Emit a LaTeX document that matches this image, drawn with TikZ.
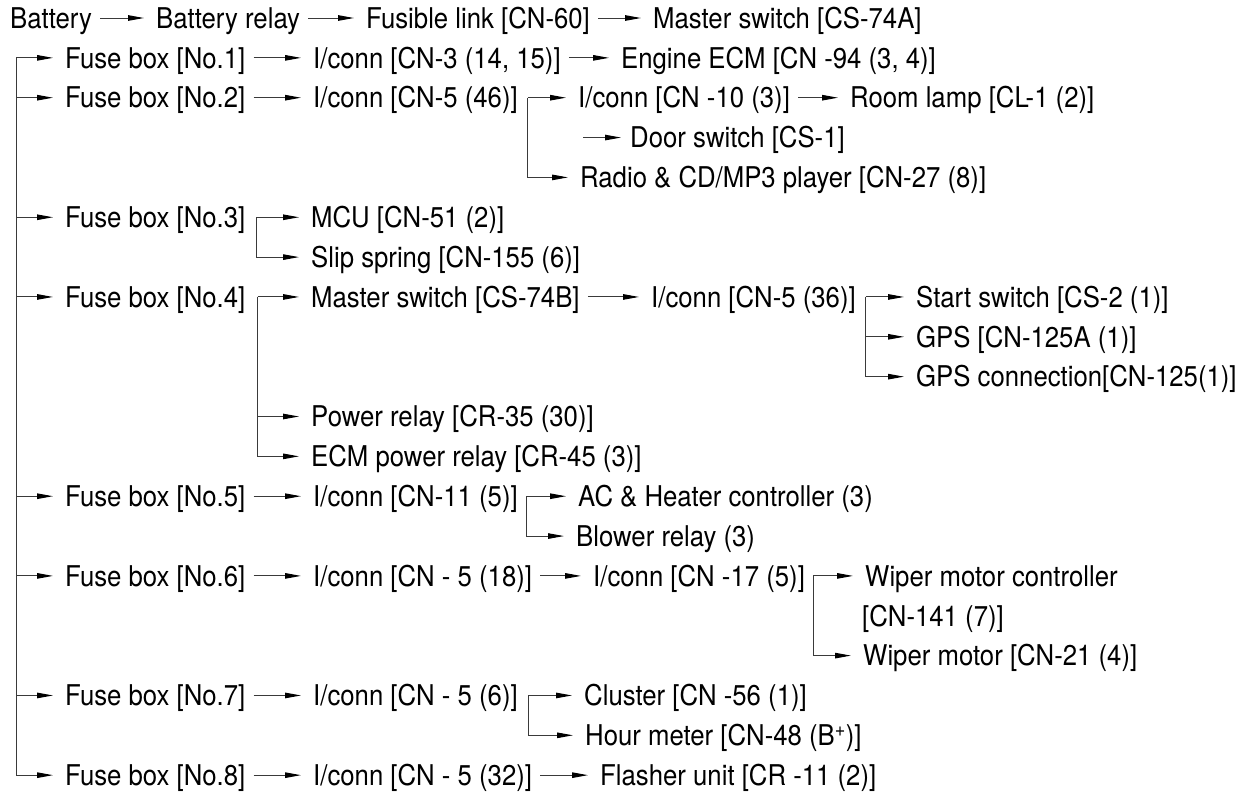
\documentclass[tikz,border=0pt]{standalone}
\usepackage{fontspec}
\setmainfont{TeX Gyre Heros}[FakeStretch=0.9]
\usetikzlibrary{arrows.meta}
\definecolor{WireGray}{HTML}{3A3A3A}
\tikzset{
  part/.style={anchor=west,inner sep=0pt,text height=20.5pt,text depth=0pt,
    font=\fontsize{28.6}{34}\selectfont},
  feed/.style={draw=WireGray,line width=1pt,-{Triangle[length=16pt,width=5.5pt,color=black]}},
  arr/.style={feed,shorten <=8pt,shorten >=12pt},
  tap/.style={feed,shorten >=12pt},
}
\begin{document}
\begin{tikzpicture}[x=1pt,y=-39.85pt]
  \useasboundingbox (0,-0.4517) rectangle (1242,19.498);
  \node[part] (bat) at (10,0) {Battery};
  \node[part] (brel) at (156,0) {Battery relay};
  \node[part] (fus) at (366,0) {Fusible link [CN-60]};
  \node[part] (msA) at (653,0) {Master switch [CS-74A]};
  \draw[arr] (bat) -- (brel); \draw[arr] (brel) -- (fus); \draw[arr] (fus) -- (msA);

  \node[part] (fb1) at (65,1) {Fuse box [No.1]};
  \node[part] (ic3) at (313,1) {I/conn [CN-3 (14, 15)]};
  \node[part] (ecm) at (621,1) {Engine ECM [CN -94 (3, 4)]};
  \draw[arr] (fb1) -- (ic3); \draw[arr] (ic3) -- (ecm);

  \node[part] (fb2) at (65,2) {Fuse box [No.2]};
  \node[part] (ic5a) at (313,2) {I/conn [CN-5 (46)]};
  \node[part] (ic10) at (578,2) {I/conn [CN -10 (3)]};
  \node[part] (room) at (850,2) {Room lamp [CL-1 (2)]};
  \node[part] (door) at (630,3) {Door switch [CS-1]};
  \node[part] (radio) at (580,4) {Radio \& CD/MP3 player [CN-27 (8)]};
  \coordinate (doorin) at (583,3);
  \draw[arr] (fb2) -- (ic5a); \draw[arr] (ic10) -- (room);
  \draw[tap] ([xshift=10pt]ic5a.east) -- (ic10);
  \draw[tap] ([xshift=10pt]ic5a.east) |- (radio);
  \draw[feed,shorten >=9pt] (doorin) -- (door);

  \node[part] (fb3) at (65,5) {Fuse box [No.3]};
  \node[part] (mcu) at (311,5) {MCU [CN-51 (2)]};
  \node[part] (slip) at (311,6) {Slip spring [CN-155 (6)]};
  \draw[tap] ([xshift=11pt]fb3.east) -- (mcu);
  \draw[tap] ([xshift=11pt]fb3.east) |- (slip);

  \node[part] (fb4) at (65,7) {Fuse box [No.4]};
  \node[part] (msB) at (311,7) {Master switch [CS-74B]};
  \node[part] (ic5b) at (651,7) {I/conn [CN-5 (36)]};
  \node[part] (start) at (916,7) {Start switch [CS-2 (1)]};
  \node[part] (gps) at (916,8) {GPS [CN-125A (1)]};
  \node[part] (gpsc) at (916,9) {GPS connection[CN-125(1)]};
  \node[part] (prel) at (311,10) {Power relay [CR-35 (30)]};
  \node[part] (eprel) at (311,11) {ECM power relay [CR-45 (3)]};
  \draw[arr] (msB) -- (ic5b);
  \draw[tap] ([xshift=12pt]fb4.east) -- (msB);
  \foreach \t in {prel,eprel} \draw[tap] ([xshift=12pt]fb4.east) |- (\t);
  \draw[tap] ([xshift=10pt]ic5b.east) -- (start);
  \foreach \t in {gps,gpsc} \draw[tap] ([xshift=10pt]ic5b.east) |- (\t);

  \node[part] (fb5) at (65,12) {Fuse box [No.5]};
  \node[part] (ic11) at (313,12) {I/conn [CN-11 (5)]};
  \node[part] (ac) at (578,12) {AC \& Heater controller (3)};
  \node[part] (blow) at (576,13) {Blower relay (3)};
  \draw[arr] (fb5) -- (ic11);
  \draw[tap] ([xshift=9pt]ic11.east) -- (ac);
  \draw[tap] ([xshift=9pt]ic11.east) |- (blow);

  \node[part] (fb6) at (65,14) {Fuse box [No.6]};
  \node[part] (ic5c) at (313,14) {I/conn [CN - 5 (18)]};
  \node[part] (ic17) at (593,14) {I/conn [CN -17 (5)]};
  \node[part] (wmc) at (865,14) {Wiper motor controller};
  \node[part] (wmcb) at (862,15) {[CN-141 (7)]};
  \node[part] (wm) at (863,16) {Wiper motor [CN-21 (4)]};
  \draw[arr] (fb6) -- (ic5c); \draw[arr] (ic5c) -- (ic17);
  \draw[tap] ([xshift=8pt]ic17.east) -- (wmc);
  \draw[tap] ([xshift=8pt]ic17.east) |- (wm);

  \node[part] (fb7) at (65,17) {Fuse box [No.7]};
  \node[part] (ic5d) at (313,17) {I/conn [CN - 5 (6)]};
  \node[part] (clu) at (584,17) {Cluster [CN -56 (1)]};
  \node[part] (hour) at (585,18) {Hour meter [CN-48 (B\textsuperscript{+})]};
  \draw[arr] (fb7) -- (ic5d);
  \draw[tap] ([xshift=11pt]ic5d.east) -- (clu);
  \draw[tap] ([xshift=11pt]ic5d.east) |- (hour);

  \node[part] (fb8) at (65,19) {Fuse box [No.8]};
  \node[part] (ic5e) at (313,19) {I/conn [CN - 5 (32)]};
  \node[part] (flash) at (600,19) {Flasher unit [CR -11 (2)]};
  \draw[arr] (fb8) -- (ic5e); \draw[arr] (ic5e) -- (flash);

  \coordinate (trunk) at (16,1);
  \foreach \n in {1,...,8} \draw[tap] (trunk) |- (fb\n);
\end{tikzpicture}
\end{document}
